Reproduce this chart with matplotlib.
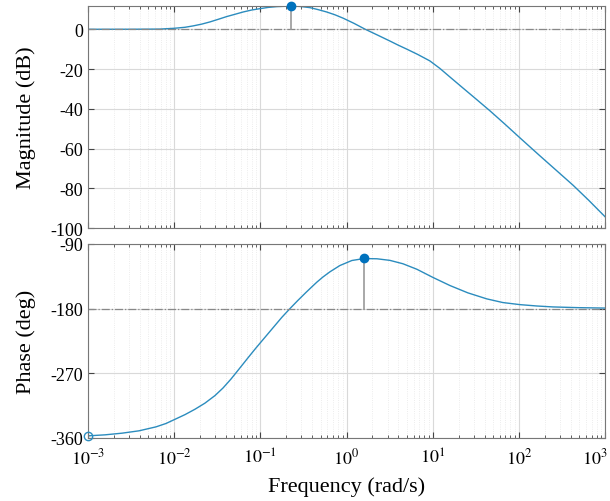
import matplotlib.pyplot as plt
import matplotlib.transforms as mtransforms
import numpy as np

plt.rcParams['font.family'] = ['Liberation Serif', 'DejaVu Serif']
plt.rcParams['mathtext.fontset'] = 'stix'

# magnitude curve (log10 of rad/s, dB)
mag_logw = [-3.0, -2.5, -2.165, -2.0, -1.875, -1.78, -1.68, -1.585, -1.49, -1.39,
            -1.29, -1.2, -1.1, -1.0, -0.91, -0.81, -0.645, -0.54, -0.425, -0.33,
            -0.23, -0.135, -0.04, 0.086, 0.213, 0.364, 0.503, 0.596, 0.7, 0.828,
            0.967, 1.084, 1.2, 1.35, 1.49, 1.664, 1.84, 2.012, 2.24, 2.43, 2.63,
            2.81, 3.0]
mag_db = [0.0, 0.02, 0.1, 0.5, 1.0, 1.7, 2.6, 3.7, 5.0, 6.4,
          7.6, 8.7, 9.7, 10.4, 11.0, 11.4, 11.7, 11.5, 10.9, 9.9,
          8.7, 7.3, 5.6, 3.0, 0.1, -3.0, -5.9, -7.9, -10.0, -12.7,
          -15.9, -19.7, -24.0, -29.5, -34.6, -41.0, -47.8, -54.6, -63.5, -70.8, -78.5,
          -86.0, -94.3]

# phase curve (log10 of rad/s, deg)
ph_logw = [-3.0, -2.803, -2.606, -2.408, -2.211, -2.095, -1.991, -1.875, -1.759,
           -1.643, -1.527, -1.434, -1.341, -1.237, -1.144, -1.063, -0.993,
           -0.912, -0.831, -0.75, -0.657, -0.564, -0.471, -0.401, -0.343,
           -0.274, -0.193, -0.077, 0.062, 0.202, 0.353, 0.503, 0.654, 0.817,
           1.002, 1.2, 1.408, 1.628, 1.814, 2.012, 2.209, 2.394, 2.684, 3.0]
ph_deg = [-357, -355.6, -353.3, -350.0, -344.5, -339.8, -334, -327.5, -320,
          -311.5, -301, -290.5, -278, -262.5, -248.5, -236.5, -226.5,
          -215, -203.5, -192, -180, -168.5, -157.5, -149.5, -143,
          -136, -128.8, -120, -113, -110.3, -110.6, -112.8, -117.5, -125.2,
          -136.5, -147.8, -158, -166.4, -171.5, -174.4, -176.3, -177.6, -178.6, -179.2]

mag_peak = (10 ** -0.645, 11.7)
ph_peak = (10 ** 0.202, -110)

line_c = '#2b8cbe'
mark_c = '#0072BD'

fig = plt.figure(figsize=(6.1, 5.02), dpi=100)
ax1 = fig.add_axes([0.1443, 0.5438, 0.8475, 0.4422])
ax2 = fig.add_axes([0.1443, 0.1255, 0.8475, 0.3865])

w_mag = 10 ** np.array(mag_logw)
w_ph = 10 ** np.array(ph_logw)

ax1.plot(w_mag, mag_db, color=line_c, lw=1.0)
ax1.axhline(0, color='#888888', ls='-.', lw=0.9)
ax1.plot([mag_peak[0], mag_peak[0]], [0, mag_peak[1]], color='#999999', lw=1.2)
ax1.plot(*mag_peak, 'o', color=mark_c, ms=6, clip_on=False, zorder=5)

ax2.plot(w_ph, ph_deg, color=line_c, lw=1.0)
ax2.axhline(-180, color='#888888', ls='-.', lw=0.9)
ax2.plot([ph_peak[0], ph_peak[0]], [-180, ph_peak[1]], color='#999999', lw=1.2)
ax2.plot(*ph_peak, 'o', color=mark_c, ms=6, clip_on=False, zorder=5)
ax2.plot(1e-3, ph_deg[0], 'o', mfc='none', mec=line_c, ms=6, clip_on=False, zorder=5)

for ax in (ax1, ax2):
    ax.set_xscale('log')
    ax.set_xlim(1e-3, 1e3)
    ax.grid(True, which='major', color='#d9d9d9', lw=0.8)
    ax.grid(True, which='minor', color='#e6e6e6', lw=0.6, ls=':')
    ax.tick_params(which='both', direction='in', top=True, right=True,
                   colors='#444444', labelcolor='black', labelsize=13)
    ax.tick_params(which='major', length=4)
    ax.tick_params(which='minor', length=2)
    for s in ax.spines.values():
        s.set_color('#777777')
        s.set_linewidth(0.8)
    ax.set_axisbelow(True)

ax1.set_ylim(-100, 11.7)
ax1.set_yticks([0, -20, -40, -60, -80, -100])
ax1.set_yticklabels(['0', '-20', '-40', '-60', '-80', '-100'])
ax1.tick_params(axis='x', labelbottom=False)
ax1.set_ylabel('Magnitude (dB)', fontsize=16)

ax2.set_ylim(-360, -90)
ax2.set_yticks([-360, -270, -180, -90])
ax2.set_yticklabels(['-360', '-270', '-180', '-90'])
ax2.set_xticks([1e-3, 1e-2, 1e-1, 1e0, 1e1, 1e2, 1e3])
ax2.set_xticklabels([r'$10^{-3}$', r'$10^{-2}$', r'$10^{-1}$', r'$10^{0}$',
                     r'$10^{1}$', r'$10^{2}$', r'$10^{3}$'])
ax2.tick_params(axis='x', pad=7)
ax2.set_ylabel('Phase (deg)', fontsize=16)
ax2.set_xlabel('Frequency (rad/s)', fontsize=16, labelpad=6)

# last tick label pulled in so it stays inside the figure
last = ax2.get_xticklabels()[-1]
last.set_transform(last.get_transform() +
                   mtransforms.ScaledTranslation(-0.1, 0, fig.dpi_scale_trans))

ax1.yaxis.set_label_coords(-0.10, 0.5)
ax2.yaxis.set_label_coords(-0.10, 0.5)

fig.savefig('out.png', dpi=100)
